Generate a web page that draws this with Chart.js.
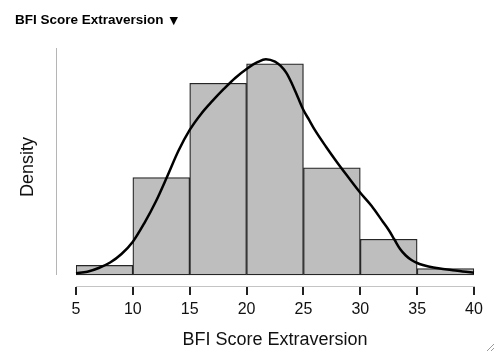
<!DOCTYPE html>
<html>
<head>
<meta charset="utf-8">
<script src="https://cdn.jsdelivr.net/npm/chart.js@4"></script>
<style>
  html, body { margin: 0; padding: 0; background: #fff; }
  #wrap { position: relative; width: 499px; height: 356px; }
  #title { position: absolute; left: 15px; top: 12px; font: bold 13.5px "Liberation Sans", Arial, sans-serif; color: #000; white-space: nowrap; }
  #title .tri { font-family: "DejaVu Sans", sans-serif; font-size: 11px; margin-left: 6px; }
  canvas { position: absolute; left: 0; top: 0; }
</style>
</head>
<body>
<div id="wrap">
  <canvas id="c" width="499" height="356"></canvas>
  <div id="title">BFI Score Extraversion<span class="tri">▼</span></div>
</div>
<script>
// Histogram bins (midpoints) and densities
const binMids = [7.5, 12.5, 17.5, 22.5, 27.5, 32.5, 37.5];
const binDensity = [0.00296, 0.02956, 0.05813, 0.06404, 0.03251, 0.01084, 0.00197];
// Kernel density curve
const curveX = [5, 6, 7, 8, 9, 10, 11, 12, 13, 14, 15, 16, 17, 18, 19, 20, 21, 21.7, 22.5, 23, 23.5, 24, 24.5, 25, 25.5, 26, 27, 28, 29, 30, 31, 32, 32.5, 33, 33.5, 34, 34.5, 35, 35.5, 36, 37, 38, 39, 40];
const curveY = [0.00052, 0.00100, 0.00212, 0.00379, 0.00637, 0.01009, 0.01567, 0.02213, 0.02971, 0.03759, 0.04396, 0.04881, 0.05275, 0.05638, 0.05972, 0.06245, 0.06457, 0.06539, 0.06466, 0.06336, 0.06124, 0.05790, 0.05396, 0.05002, 0.04699, 0.04396, 0.03880, 0.03395, 0.02940, 0.02495, 0.02092, 0.01607, 0.01364, 0.01076, 0.00788, 0.00591, 0.00455, 0.00364, 0.00303, 0.00258, 0.00197, 0.00152, 0.00106, 0.00070];
const xTicks = [5, 10, 15, 20, 25, 30, 35, 40];
const xTitle = "BFI Score Extraversion";
const yTitle = "Density";

const FONT = "'Liberation Sans', Arial, sans-serif";

const axesPlugin = {
  id: 'jaspAxes',
  afterDraw(chart) {
    const ctx = chart.ctx;
    const y = chart.scales.y;
    const ca = chart.chartArea;
    ctx.save();
    // separated y-axis line
    ctx.strokeStyle = '#b5b5b5';
    ctx.lineWidth = 1;
    ctx.beginPath();
    const lx = Math.round(ca.left - 20) + 0.5;
    ctx.moveTo(lx, y.getPixelForValue(y.max));
    ctx.lineTo(lx, y.getPixelForValue(0));
    ctx.stroke();
    // resize grip
    ctx.strokeStyle = '#9a9a9a';
    ctx.lineWidth = 1;
    const W = chart.width, H = chart.height;
    [[W - 5, H - 12, W - 12, H - 5], [W - 5, H - 8, W - 8, H - 5]].forEach(s => {
      ctx.beginPath(); ctx.moveTo(s[0], s[1]); ctx.lineTo(s[2], s[3]); ctx.stroke();
    });
    ctx.restore();
  }
};

new Chart(document.getElementById('c'), {
  data: {
    datasets: [
      {
        type: 'line',
        data: curveX.map((x, i) => ({ x: x, y: curveY[i] })),
        borderColor: '#000',
        borderWidth: 2.5,
        pointRadius: 0,
        cubicInterpolationMode: 'monotone',
        fill: false,
        clip: false,
        order: 0
      },
      {
        type: 'bar',
        data: binMids.map((x, i) => ({ x: x, y: binDensity[i] })),
        backgroundColor: '#bebebe',
        borderColor: '#262626',
        borderWidth: 1.3,
        borderSkipped: false,
        barPercentage: 1,
        categoryPercentage: 1,
        order: 1
      }
    ]
  },
  options: {
    responsive: false,
    animation: false,
    events: [],
    layout: { padding: { left: 13, right: 25, top: 48, bottom: 0 } },
    plugins: { legend: { display: false }, tooltip: { enabled: false } },
    scales: {
      x: {
        type: 'linear',
        offset: false,
        min: 5, max: 40,
        afterBuildTicks: s => { s.ticks = xTicks.map(v => ({ value: v })); },
        afterFit: s => { s.height = 70; },
        grid: { offset: false, drawOnChartArea: false, drawTicks: true, tickLength: 9, color: '#222', lineWidth: 2 },
        border: { display: true, color: '#c4c4c4', width: 1 },
        ticks: { color: '#111', padding: 5, font: { family: FONT, size: 16 } },
        title: { display: true, text: xTitle, color: '#111', font: { family: FONT, size: 18 }, padding: { top: 4, bottom: 5 } }
      },
      y: {
        min: -0.00333, max: 0.0688,
        afterFit: s => { s.width = 63; },
        grid: { display: false },
        border: { display: false },
        ticks: { display: false },
        title: { display: true, text: yTitle, color: '#111', font: { family: FONT, size: 18 }, padding: { top: 4, bottom: 4 } }
      }
    }
  },
  plugins: [axesPlugin]
});
</script>
</body>
</html>
